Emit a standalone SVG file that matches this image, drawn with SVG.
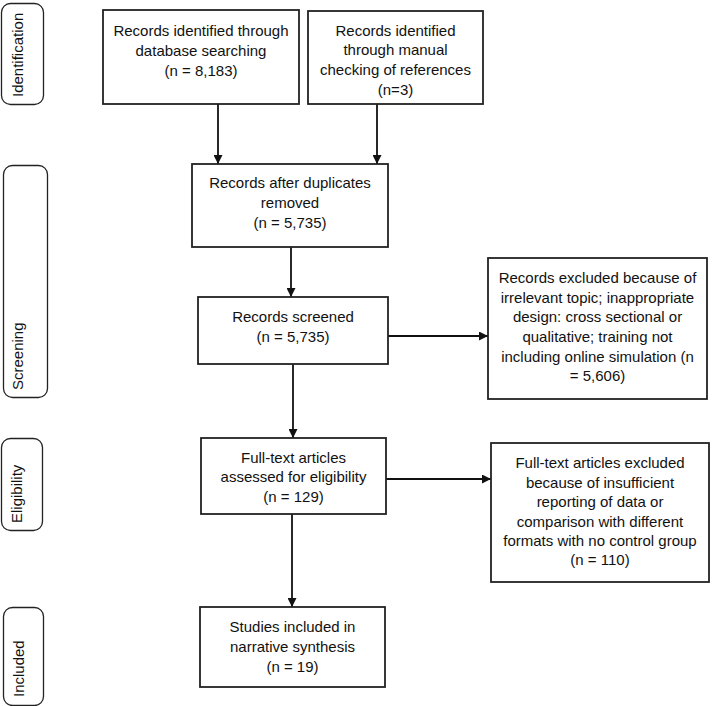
<svg xmlns="http://www.w3.org/2000/svg" width="712" height="706" viewBox="0 0 712 706">
<style>
.box{fill:#fff;stroke:#222;stroke-width:1.8}
.lab{fill:#fff;stroke:#222;stroke-width:1.3}
text{font-family:"Liberation Sans",Arial,sans-serif;font-size:15px;fill:#111}
.c{text-anchor:middle}
.side{text-anchor:start}
.con{stroke:#111;stroke-width:1.8;fill:none;marker-end:url(#ah)}
</style>
<defs>
<marker id="ah" viewBox="0 0 10 10" refX="10" refY="5" markerWidth="9" markerHeight="9" markerUnits="userSpaceOnUse" orient="auto">
<path d="M0,0 L10,5 L0,10 z" fill="#111"/>
</marker>
</defs>
<rect width="712" height="706" fill="#fff"/>
<g id="phase-identification"><rect class="lab" x="1.5" y="3.5" width="42" height="101" rx="9"/><text class="side" transform="translate(23,97) rotate(-90)">Identification</text></g>
<g id="phase-screening"><rect class="lab" x="3.5" y="165.5" width="44" height="232" rx="9"/><text class="side" transform="translate(23,390) rotate(-90)">Screening</text></g>
<g id="phase-eligibility"><rect class="lab" x="1.5" y="438.5" width="41" height="92" rx="9"/><text class="side" transform="translate(22,523) rotate(-90)">Eligibility</text></g>
<g id="phase-included"><rect class="lab" x="3.5" y="607.5" width="40" height="98" rx="9"/><text class="side" transform="translate(24,697) rotate(-90)">Included</text></g>

<g id="connectors">
<line class="con" x1="218" y1="104" x2="218" y2="164"/>
<line class="con" x1="377" y1="104" x2="377" y2="164"/>
<line class="con" x1="291" y1="247" x2="291" y2="297"/>
<line class="con" x1="388" y1="336" x2="488" y2="336"/>
<line class="con" x1="293" y1="364" x2="293" y2="438"/>
<line class="con" x1="386" y1="479" x2="491" y2="479"/>
<line class="con" x1="292" y1="514" x2="292" y2="607"/>
</g>

<g id="n1"><rect class="box" x="103" y="10" width="196" height="94"/>
<text class="c" x="201" y="36">Records identified through</text><text class="c" x="201" y="56">database searching</text><text class="c" x="201" y="76">(n = 8,183)</text></g>
<g id="n2"><rect class="box" x="308" y="11" width="175" height="93"/>
<text class="c" x="395.5" y="36">Records identified</text><text class="c" x="395.5" y="55">through manual</text><text class="c" x="395.5" y="75">checking of references</text><text class="c" x="395.5" y="95">(n=3)</text></g>
<g id="n3"><rect class="box" x="192" y="164" width="196" height="83"/>
<text class="c" x="290" y="188">Records after duplicates</text><text class="c" x="290" y="208">removed</text><text class="c" x="290" y="228">(n = 5,735)</text></g>
<g id="n4"><rect class="box" x="198" y="297" width="190" height="67"/>
<text class="c" x="293" y="322">Records screened</text><text class="c" x="293" y="342">(n = 5,735)</text></g>
<g id="n5"><rect class="box" x="488" y="258" width="219" height="141"/>
<text class="c" x="597.5" y="283">Records excluded because of</text><text class="c" x="597.5" y="303">irrelevant topic; inappropriate</text><text class="c" x="597.5" y="322">design: cross sectional or</text><text class="c" x="597.5" y="342">qualitative; training not</text><text class="c" x="597.5" y="362">including online simulation (n</text><text class="c" x="597.5" y="381">= 5,606)</text></g>
<g id="n6"><rect class="box" x="201" y="438" width="185" height="76"/>
<text class="c" x="293.5" y="463">Full-text articles</text><text class="c" x="293.5" y="482">assessed for eligibility</text><text class="c" x="293.5" y="502">(n = 129)</text></g>
<g id="n7"><rect class="box" x="491" y="443" width="218" height="139"/>
<text class="c" x="600" y="468">Full-text articles excluded</text><text class="c" x="600" y="488">because of insufficient</text><text class="c" x="600" y="507">reporting of data or</text><text class="c" x="600" y="527">comparison with different</text><text class="c" x="600" y="546">formats with no control group</text><text class="c" x="600" y="565">(n = 110)</text></g>
<g id="n8"><rect class="box" x="200" y="607" width="185" height="80"/>
<text class="c" x="292.5" y="632">Studies included in</text><text class="c" x="292.5" y="652">narrative synthesis</text><text class="c" x="292.5" y="672">(n = 19)</text></g>
</svg>
